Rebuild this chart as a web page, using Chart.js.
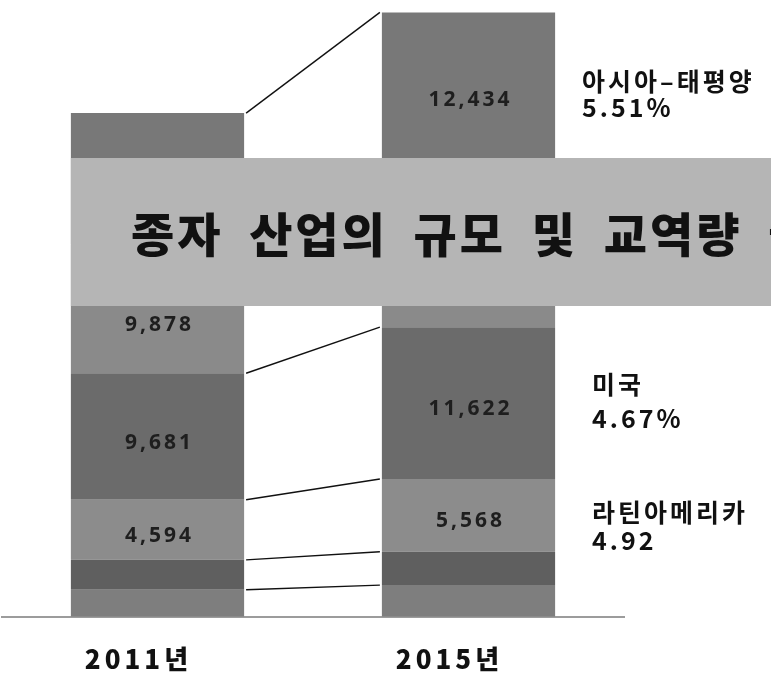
<!DOCTYPE html>
<html>
<head>
<meta charset="utf-8">
<script src="https://cdn.jsdelivr.net/npm/chart.js@4.4.1/dist/chart.umd.min.js"></script>
<style>
  html, body { margin: 0; padding: 0; background: #fff; }
  canvas { display: block; }
</style>
</head>
<body>
<canvas id="chart" width="771" height="675"></canvas>
<script>
// 연도별 지역 종자 시장 규모 (백만 달러)
var years = ['2011년', '2015년'];
var regions = ['기타', '중동·아프리카', '라틴아메리카', '미국', '유럽', '아시아-태평양'];
var other = [2065, 2425];
var midEast = [2295, 2550];
var latam = [4594, 5568];
var usa = [9681, 11622];
var europe = [9878, 11650];
var asiaPac = [10033, 12434];

// 막대 안에 숫자를 보여줄 계열 (연도별)
var shownValues = [[2, 3, 4], [2, 3, 5]];

// 오른쪽 성장률 메모
var noteSeries = [5, 3, 2];
var noteNames = ['아시아–태평양', '미국', '라틴아메리카'];
var noteRates = ['5.51%', '4.67%', '4.92'];

var bannerText = '종자 산업의 규모 및 교역량 급증';

var colors = ['#7e7e7e', '#5f5f5f', '#8c8c8c', '#6b6b6b', '#8a8a8a', '#787878'];
var series = [other, midEast, latam, usa, europe, asiaPac];

var BANNER_TOP = 158, BANNER_BOTTOM = 306;

var datasets = [];
for (var i = 0; i < series.length; i++) {
  datasets.push({
    label: regions[i],
    data: series[i],
    backgroundColor: colors[i],
    borderWidth: 0,
    barPercentage: 1,
    categoryPercentage: 0.557
  });
}

function fmt(v) {
  return v.toString().replace(/\B(?=(\d{3})+(?!\d))/g, ',');
}

var overlay = {
  id: 'overlay',
  beforeDraw: function (chart) {
    chart.ctx.letterSpacing = '4px';
  },
  afterDatasetsDraw: function (chart) {
    var ctx = chart.ctx;
    var metas = [];
    for (var i = 0; i < series.length; i++) metas.push(chart.getDatasetMeta(i));

    // 연결선
    ctx.save();
    ctx.strokeStyle = '#111';
    ctx.lineWidth = 1.4;
    metas.forEach(function (m) {
      var a = m.data[0], b = m.data[1];
      ctx.beginPath();
      ctx.moveTo(a.x + a.width / 2 + 2, a.y);
      ctx.lineTo(b.x - b.width / 2 - 2, b.y);
      ctx.stroke();
    });
    ctx.restore();

    // 가로 띠
    var first = metas[0].data[0];
    var bx = first.x - first.width / 2;
    ctx.save();
    ctx.fillStyle = '#b5b5b5';
    ctx.fillRect(bx, BANNER_TOP, chart.width - bx, BANNER_BOTTOM - BANNER_TOP);
    ctx.fillStyle = '#111';
    ctx.font = '900 47px "Noto Sans CJK KR"';
    ctx.letterSpacing = '3px';
    ctx.wordSpacing = '12px';
    ctx.textBaseline = 'middle';
    ctx.textAlign = 'left';
    ctx.fillText(bannerText, bx + 60, (BANNER_TOP + BANNER_BOTTOM) / 2 + 2);
    ctx.restore();

    // 막대 안 숫자
    ctx.save();
    ctx.fillStyle = '#1e1e1e';
    ctx.font = 'bold 21px "Noto Sans"';
    ctx.letterSpacing = '3px';
    ctx.textAlign = 'center';
    ctx.textBaseline = 'middle';
    shownValues.forEach(function (list, yi) {
      list.forEach(function (si) {
        var el = metas[si].data[yi];
        var cy = (el.y + el.base) / 2 + 6;
        if (cy > BANNER_TOP && cy < BANNER_BOTTOM + 19) cy = BANNER_BOTTOM + 19;
        ctx.fillText(fmt(series[si][yi]), el.x + 2, cy);
      });
    });
    ctx.restore();

    // 오른쪽 메모
    var shift = [1, -2, 11];
    var gaps = [13, 17, 14];
    ctx.save();
    ctx.fillStyle = '#111';
    ctx.font = 'bold 25px "Noto Sans CJK KR"';
    ctx.letterSpacing = '3px';
    ctx.textAlign = 'left';
    ctx.textBaseline = 'middle';
    noteSeries.forEach(function (si, k) {
      var el = metas[si].data[1];
      var cy = (el.y + el.base) / 2 + shift[k];
      var x = el.x + el.width / 2 + (k === 0 ? 27 : 37);
      ctx.fillText(noteNames[k], x, cy - gaps[k]);
      ctx.fillText(noteRates[k], x, cy + gaps[k]);
    });
    ctx.restore();
  }
};

new Chart(document.getElementById('chart').getContext('2d'), {
  type: 'bar',
  data: { labels: years, datasets: datasets },
  options: {
    responsive: false,
    animation: false,
    layout: { padding: { left: 2, right: 147, top: 0, bottom: -27 } },
    plugins: { legend: { display: false }, tooltip: { enabled: false } },
    scales: {
      x: {
        stacked: true,
        grid: { display: false, drawTicks: false },
        border: { display: true, color: '#9c9c9c', width: 2 },
        ticks: {
          color: '#111',
          font: { family: '"Noto Sans CJK KR"', size: 26, weight: '900' },
          padding: 27,
          labelOffset: -19
        }
      },
      y: {
        stacked: true,
        display: false,
        min: 0,
        max: 47200
      }
    }
  },
  plugins: [overlay]
});
</script>
</body>
</html>
